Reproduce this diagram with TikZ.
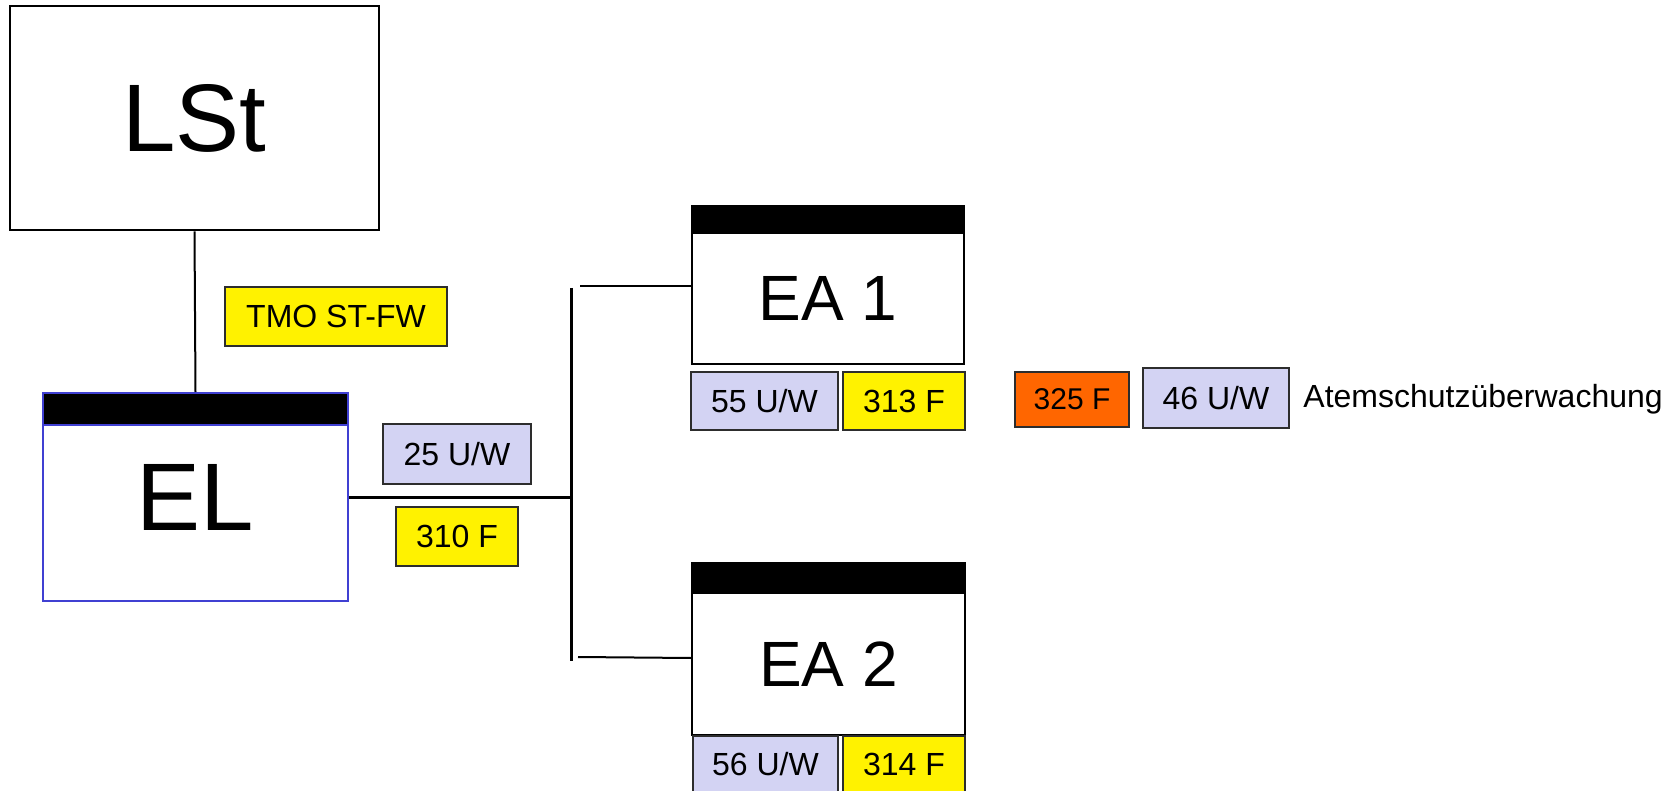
\documentclass[tikz,border=0pt]{standalone}
\usepackage{fontspec}
\setmainfont{Liberation Sans}
\definecolor{lav}{RGB}{211,211,243}
\definecolor{orng}{RGB}{255,102,0}
\definecolor{elblue}{RGB}{64,64,210}
\definecolor{lblgray}{RGB}{45,45,45}
\tikzset{
  bigbox/.style={draw=black, line width=1.4pt, fill=white, inner sep=0pt},
  hdr/.style={draw=black, fill=black, line width=0.8pt, inner sep=0pt},
  lbl/.style={draw=lblgray, line width=1pt, inner sep=0pt, font=\fontsize{16pt}{16pt}\selectfont},
  uw/.style={lbl, fill=lav},
  fy/.style={lbl, fill=yellow},
  fo/.style={lbl, fill=orng, font=\fontsize{15pt}{15pt}\selectfont},
  thin/.style={line width=1pt, draw=black},
  thick/.style={line width=1.5pt, draw=black},
  hugefont/.style={font=\fontsize{48pt}{48pt}\selectfont},
  eafont/.style={font=\fontsize{32pt}{32pt}\selectfont},
}
\begin{document}
\begin{tikzpicture}[x=0.5pt,y=-0.5pt]
\useasboundingbox (0,0) rectangle (1677,791);
\fill[white] (0,0) rectangle (1677,791);

% LSt
\node[bigbox, minimum width=184.5pt, minimum height=112pt, hugefont] (lst) at (194.5,118) {LSt};

% EL
\node[bigbox, draw=elblue, line width=1pt, minimum width=152.5pt, minimum height=104pt, hugefont] (el) at (195.5,497) {EL};
\node[hdr, draw=elblue, line width=1pt, minimum width=152.5pt, minimum height=16pt, anchor=north] (elh) at (el.north) {};

% EA 1
\node[bigbox, line width=1pt, minimum width=136pt, minimum height=65.5pt, eafont] (ea1) at (828,298.5) {EA 1};
\node[hdr, minimum width=136pt, minimum height=12.5pt, anchor=south] (ea1h) at (ea1.north) {};

% EA 2
\node[bigbox, line width=1pt, minimum width=136.5pt, minimum height=71pt, eafont] (ea2) at (828.5,664) {EA 2};
\node[hdr, minimum width=136.5pt, minimum height=14pt, anchor=south] (ea2h) at (ea2.north) {};

% labels
\node[fy, minimum width=111pt, minimum height=29.5pt] (tmo) at (336,316.5) {TMO ST-FW};
\node[uw, minimum width=74pt, minimum height=30pt] (uw25) at (457,454) {25 U/W};
\node[fy, minimum width=61pt, minimum height=29.5pt] (f310) at (457,536.5) {310 F};
\node[uw, minimum width=73.5pt, minimum height=29pt] (uw55) at (764.5,401) {55 U/W};
\node[fy, minimum width=61pt, minimum height=29pt] (f313) at (904,401) {313 F};
\node[fo, minimum width=57pt, minimum height=27.5pt] (f325) at (1072,399.5) {325 F};
\node[uw, minimum width=73pt, minimum height=30pt] (uw46) at (1216,398) {46 U/W};
\node[uw, minimum width=72.5pt, minimum height=29pt] (uw56) at (765.5,764.5) {56 U/W};
\node[fy, minimum width=61pt, minimum height=29pt] (f314) at (904,764.5) {314 F};
\node[anchor=base west, inner sep=0pt, font=\fontsize{16pt}{16pt}\selectfont] (asu) at (1303,408) {Atemschutzüberwachung};

% bus coordinates
\coordinate (bt) at (571,288);
\coordinate (bb) at (571,661);
\coordinate (t1) at (580,286);
\coordinate (t2) at (578,657);

% connectors
\draw[thin] (lst.south) -- (elh.north);
\draw[thick] (el.east) -- (el.east -| bt);
\draw[thick] (bt) -- (bb);
\draw[thin] (t1) -- (t1 -| ea1.west);
\draw[thin] (t2) -- (ea2.west |- 0,658);
\end{tikzpicture}
\end{document}
